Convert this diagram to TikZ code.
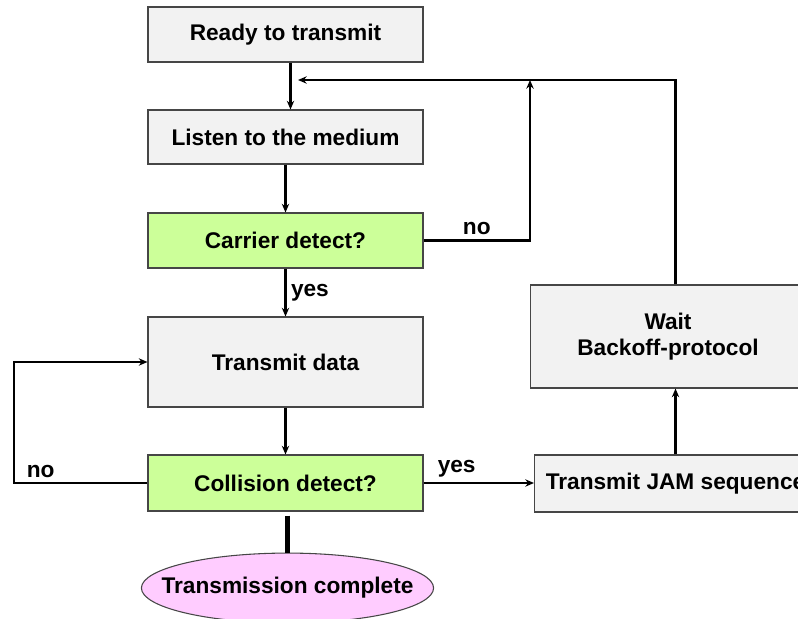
\documentclass[tikz,border=0pt]{standalone}
\usepackage{fontspec}
\setmainfont{Liberation Sans}
\usetikzlibrary{arrows.meta,shapes.geometric}
\definecolor{boxgray}{RGB}{242,242,242}
\definecolor{checkgreen}{RGB}{204,255,153}
\definecolor{endpink}{RGB}{255,204,255}
\definecolor{edgegray}{RGB}{70,70,70}
\begin{document}
\begin{tikzpicture}[x=0.75pt, y=-0.75pt,
  font=\fontsize{17}{20}\selectfont\bfseries,
  box/.style={draw=edgegray, line width=0.8pt, fill=boxgray, minimum width=206.25pt,
    minimum height=41.25pt, inner sep=0pt, align=center},
  check/.style={box, fill=checkgreen},
  arr/.style={line width=1.6pt, -{Stealth[length=6.5pt, width=5.5pt]}}]
  \useasboundingbox (0,0) rectangle (798,618);

  % Main column
  \node[box] (ready) at (285.5,34.5) {Ready to transmit};
  \node[box, minimum height=40.5pt] (listen) at (285.5,137) {Listen to the medium};
  \node[check] (carrier) at (285.5,240.5) {Carrier detect?};
  \node[box, minimum height=67.5pt] (send) at (285.5,362) {Transmit data};
  \node[check, minimum height=42pt] (collision) at (285.5,483) {Collision detect?};
  \node[ellipse, draw=edgegray, line width=0.8pt, fill=endpink, inner xsep=-17pt,
    inner ysep=10.6pt] (done) at (287.5,588) {Transmission complete};

  % Backoff branch
  \node[box, minimum height=77.25pt] (wait) at (668,336.5) {Wait\\Backoff-protocol};
  \node[box, minimum width=211.5pt, minimum height=42.75pt] (jam) at (675.5,483.5) {Transmit JAM sequence};

  \coordinate (top) at (298,80);
  \coordinate (nojoin) at (530,80);
  \coordinate (leftrail) at (14,420);

  % Arrows
  \draw[arr] ([xshift=3.75pt]ready.south) -- ([xshift=3.75pt]listen.north);
  \draw[arr] (listen.south) -- (carrier.north);
  \draw[arr] (carrier.south) -- node[right] {yes} (send.north);
  \draw[arr] (send.south) -- (collision.north);
  \draw[arr] (carrier.east) -| node[pos=0.25, above] {no} (nojoin);
  \draw[arr] (jam.north) -- (jam.north |- wait.south);
  \draw[arr] (jam.north |- wait.north) -- (jam.north |- top) -- (top);
  \draw[arr] (collision.west) -- node[pos=0.8, above] {no} (collision.west -| leftrail) |- (send.west);
  \draw[arr] (collision.east) -- node[pos=0.3, above] {yes} (collision.east -| jam.west);
  \draw[line width=3.75pt] ([yshift=-3pt]collision.south -| done.north) -- (done.north);
\end{tikzpicture}
\end{document}
